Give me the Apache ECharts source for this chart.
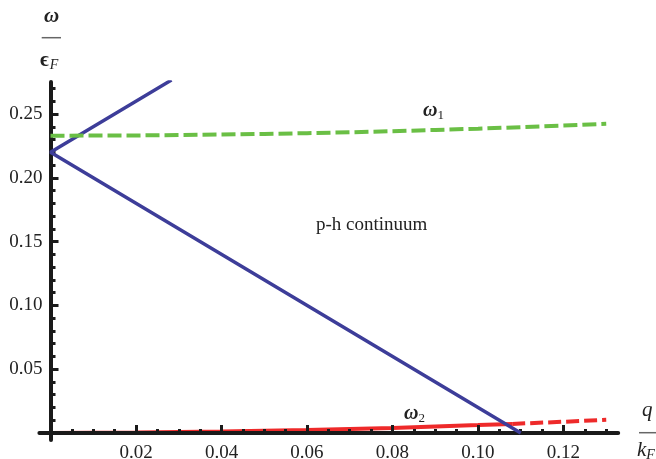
<!DOCTYPE html>
<html>
<head>
<meta charset="utf-8">
<script src="https://cdn.jsdelivr.net/npm/echarts@6/dist/echarts.min.js"></script>
<style>
  html, body { margin: 0; padding: 0; background: #fff; }
  #chart { width: 656px; height: 459px; }
</style>
</head>
<body>
<div id="chart"></div>
<script>
// omega_1 branch (green dashed)
const q1 = [0, 0.01, 0.02, 0.03, 0.04, 0.05, 0.06, 0.07, 0.08, 0.09, 0.10, 0.11, 0.12, 0.13]
const omega1 = [0.2330, 0.2331, 0.2332, 0.2335, 0.2339, 0.2344, 0.2350, 0.2357, 0.2365, 0.2375, 0.2385, 0.2397, 0.2409, 0.2423]
// omega_2 branch, solid part (outside continuum) and dashed part (inside)
const q2 = [0, 0.02, 0.04, 0.06, 0.08, 0.10, 0.108]
const omega2 = [0, 0.0004, 0.0011, 0.0023, 0.0040, 0.0062, 0.0071]
const q2d = [0.108, 0.11, 0.12, 0.13]
const omega2d = [0.0071, 0.0074, 0.0088, 0.0103]
// p-h continuum boundary
const qBound = [0.0283, 0, 0.11]
const omegaBound = [0.2766, 0.22, 0]
// ticks
const xMajor = [0.02, 0.04, 0.06, 0.08, 0.10, 0.12]
const xMinor = [0.005, 0.01, 0.015, 0.025, 0.03, 0.035, 0.045, 0.05, 0.055, 0.065, 0.07, 0.075,
  0.085, 0.09, 0.095, 0.105, 0.11, 0.115, 0.125, 0.13]
const yMajor = [0.05, 0.10, 0.15, 0.20, 0.25]
const yMinor = [0.01, 0.02, 0.03, 0.04, 0.06, 0.07, 0.08, 0.09, 0.11, 0.12, 0.13, 0.14,
  0.16, 0.17, 0.18, 0.19, 0.21, 0.22, 0.23, 0.24, 0.26, 0.27]

const serif = '"Liberation Serif", "DejaVu Serif", serif'
const ink = '#1a1a1a'

const pairs = (xs, ys) => xs.map((x, i) => [x, ys[i]])

const xRange = { min: -0.0026, max: 0.1328 }
const yRange = { min: -0.0055, max: 0.275 }

function xAxisOf(ticks, len, withLine) {
  return {
    type: 'value',
    position: 'bottom',
    min: xRange.min,
    max: xRange.max,
    axisLine: { show: withLine, onZero: true, onZeroAxisIndex: 0, lineStyle: { color: ink, width: 4 } },
    axisTick: { show: true, inside: true, length: len, customValues: ticks, lineStyle: { color: ink, width: 3 } },
    axisLabel: {
      show: withLine,
      customValues: ticks,
      formatter: v => v.toFixed(2),
      margin: 4,
      fontFamily: serif,
      fontSize: 19,
      color: '#222'
    },
    splitLine: { show: false }
  }
}

function yAxisOf(ticks, len, withLine) {
  return {
    type: 'value',
    position: 'left',
    min: yRange.min,
    max: yRange.max,
    axisLine: { show: withLine, onZero: true, onZeroAxisIndex: 0, lineStyle: { color: ink, width: 4 } },
    axisTick: { show: true, inside: true, length: len, customValues: ticks, lineStyle: { color: ink, width: 3 } },
    axisLabel: {
      show: withLine,
      customValues: ticks,
      formatter: v => v.toFixed(2),
      margin: -3,
      fontFamily: serif,
      fontSize: 19,
      color: '#222'
    },
    splitLine: { show: false }
  }
}

const chart = echarts.init(document.getElementById('chart'))
chart.setOption({
  animation: false,
  backgroundColor: '#fff',
  grid: { left: 39.4, right: 37.8, top: 82.1, bottom: 19, outerBoundsMode: 'none', containLabel: false },
  xAxis: [xAxisOf(xMajor, 8, true), xAxisOf(xMinor, 4, false)],
  yAxis: [yAxisOf(yMajor, 8, true), yAxisOf(yMinor, 5, false)],
  series: [
    {
      name: 'boundary',
      type: 'line',
      data: pairs(qBound, omegaBound),
      symbol: 'none',
      lineStyle: { color: '#3d3d99', width: 3.5 }
    },
    {
      name: 'omega1',
      type: 'line',
      data: pairs(q1, omega1),
      symbol: 'none',
      lineStyle: { color: '#6abf45', width: 4, type: [14, 5] }
    },
    {
      // sits under the q axis line, as in the original
      name: 'omega2',
      type: 'line',
      z: -1,
      data: pairs(q2, omega2),
      symbol: 'none',
      lineStyle: { color: '#ee2a2a', width: 4 }
    },
    {
      name: 'omega2 damped',
      type: 'line',
      data: pairs(q2d, omega2d),
      symbol: 'none',
      lineStyle: { color: '#ee2a2a', width: 4, type: [13, 5] }
    }
  ],
  graphic: [
    // y axis title: omega / eps_F
    { type: 'text', left: 44, top: 6, style: { text: 'ω', font: 'italic bold 21px ' + serif, fill: '#222' } },
    { type: 'line', shape: { x1: 41.7, y1: 37.7, x2: 61, y2: 37.7 }, style: { stroke: '#666', lineWidth: 1.5 } },
    {
      type: 'text', left: 40, top: 50,
      style: {
        text: '{a|ϵ}{b|F}',
        rich: {
          a: { font: 'bold 21px ' + serif, fill: '#222' },
          b: { font: 'italic 14px ' + serif, fill: '#222', padding: [10, 0, 0, 1] }
        }
      }
    },
    // x axis title: q / k_F
    { type: 'text', left: 642, top: 400, style: { text: 'q', font: 'italic 21px ' + serif, fill: '#222' } },
    { type: 'line', shape: { x1: 639, y1: 432.7, x2: 656, y2: 432.7 }, style: { stroke: '#666', lineWidth: 1.5 } },
    {
      type: 'text', left: 637, top: 440,
      style: {
        text: '{a|k}{b|F}',
        rich: {
          a: { font: 'italic 21px ' + serif, fill: '#222' },
          b: { font: 'italic 14px ' + serif, fill: '#222', padding: [10, 0, 0, 0] }
        }
      }
    },
    // curve labels
    {
      type: 'text', left: 423, top: 101,
      style: {
        text: '{a|ω}{b|1}',
        rich: {
          a: { font: 'italic bold 20px ' + serif, fill: '#222' },
          b: { font: '13px ' + serif, fill: '#222', padding: [9, 0, 0, 0] }
        }
      }
    },
    {
      type: 'text', left: 404, top: 404,
      style: {
        text: '{a|ω}{b|2}',
        rich: {
          a: { font: 'italic bold 20px ' + serif, fill: '#222' },
          b: { font: '13px ' + serif, fill: '#222', padding: [9, 0, 0, 0] }
        }
      }
    },
    {
      type: 'text', left: 316, top: 216,
      style: { text: 'p-h continuum', font: '19px ' + serif, fill: '#222' }
    }
  ]
})
</script>
</body>
</html>
